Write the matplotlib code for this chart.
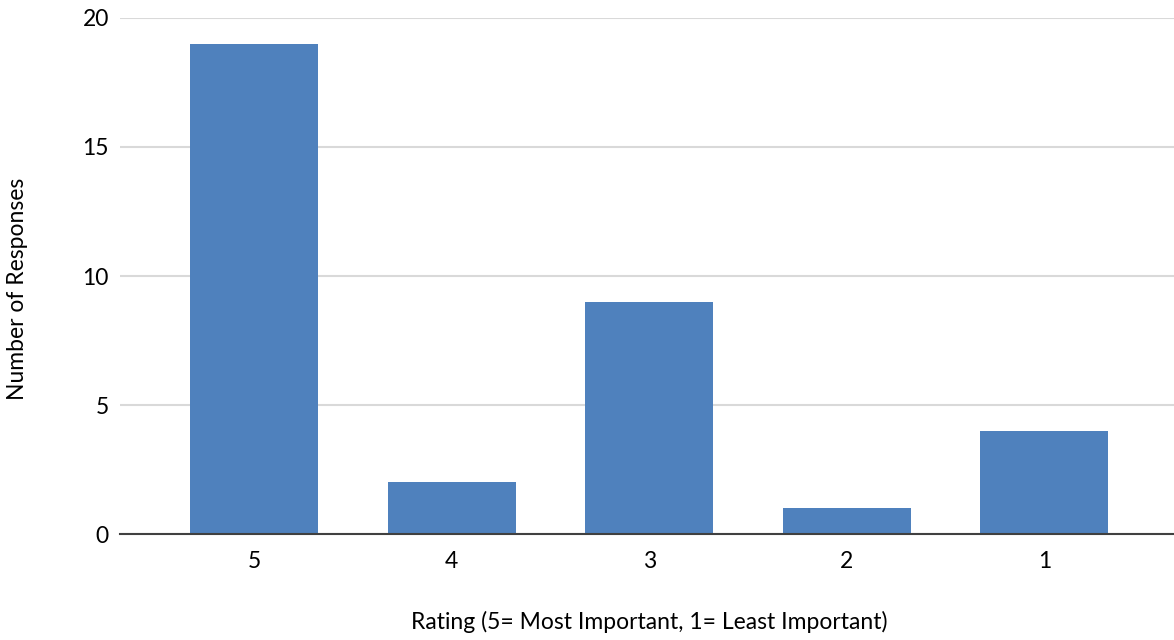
import matplotlib

matplotlib.use("Agg")
import matplotlib.pyplot as plt

ratings = ["5", "4", "3", "2", "1"]
responses = [19, 2, 9, 1, 4]

BAR_COLOR = "#4F81BD"

plt.rcParams["font.family"] = ["Lato", "DejaVu Sans"]

fig = plt.figure(figsize=(11.74, 6.4), dpi=100)
ax = fig.add_axes([0.1022, 0.1656, 0.8978, 0.8063])

x = range(len(ratings))
ax.bar(x, responses, width=0.648, color=BAR_COLOR, zorder=3)

ax.set_xlim(-0.678, 4.656)
ax.set_ylim(0, 20)
ax.set_yticks([0, 5, 10, 15, 20])
ax.set_xticks(list(x), ratings)

ax.grid(axis="y", color="#d9d9d9", linewidth=1.5, zorder=0)
for side in ["top", "right", "left"]:
    ax.spines[side].set_visible(False)
ax.spines["bottom"].set_color("#404040")
ax.spines["bottom"].set_linewidth(1.5)
ax.spines["bottom"].set_zorder(4)

ax.tick_params(axis="both", length=0, labelsize=16.5, colors="black")
ax.tick_params(axis="x", pad=12)
ax.tick_params(axis="y", pad=8)

ax.set_xlabel("Rating (5= Most Important, 1= Least Important)", fontsize=16.5, va="center")
ax.xaxis.set_label_coords(0.502, -0.1705)
ax.set_ylabel("Number of Responses", fontsize=16.5, va="center")
ax.yaxis.set_label_coords(-0.0968, 0.475)

fig.savefig("out.png", dpi=100)
